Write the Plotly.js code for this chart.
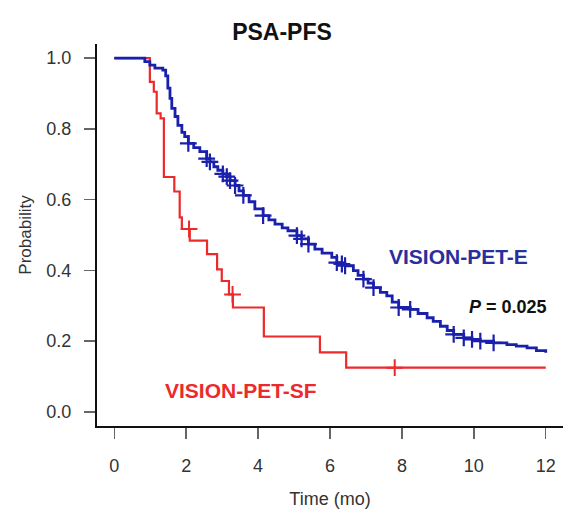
<!DOCTYPE html>
<html>
<head>
<meta charset="utf-8">
<script src="https://cdn.plot.ly/plotly-3.0.1.min.js"></script>
<style>html,body{margin:0;padding:0;background:#fff;}#chart{width:582px;height:520px;}</style>
</head>
<body>
<div id="chart"></div>
<script>
// VISION-PET-E (blue) Kaplan-Meier steps
var eTime = [0, 0.71, 0.85, 0.99, 1.13, 1.35, 1.43, 1.49, 1.55, 1.60, 1.69, 1.77, 1.88, 1.96, 2.06, 2.21, 2.38, 2.57, 2.66, 2.77, 2.88, 3.02, 3.13, 3.22, 3.36, 3.47, 3.59, 3.75, 3.91, 4.14, 4.30, 4.47, 4.67, 4.83, 5.08, 5.21, 5.40, 5.58, 5.78, 6.05, 6.19, 6.33, 6.42, 6.65, 6.78, 6.93, 7.06, 7.21, 7.40, 7.58, 7.73, 7.91, 8.23, 8.45, 8.70, 8.87, 9.07, 9.26, 9.44, 9.72, 9.95, 10.18, 10.55, 10.92, 11.18, 11.48, 11.74, 12.0];
var eSurv = [1.0, 1.0, 0.99, 0.98, 0.972, 0.966, 0.95, 0.915, 0.886, 0.858, 0.835, 0.81, 0.79, 0.778, 0.759, 0.747, 0.736, 0.716, 0.707, 0.693, 0.683, 0.673, 0.665, 0.654, 0.64, 0.625, 0.612, 0.594, 0.574, 0.555, 0.543, 0.531, 0.52, 0.512, 0.498, 0.489, 0.474, 0.46, 0.449, 0.437, 0.422, 0.418, 0.413, 0.399, 0.386, 0.375, 0.364, 0.351, 0.338, 0.328, 0.31, 0.295, 0.29, 0.278, 0.266, 0.256, 0.242, 0.23, 0.219, 0.209, 0.205, 0.20, 0.195, 0.19, 0.186, 0.181, 0.173, 0.167];
var eCensor = [2.06, 2.57, 2.66, 3.02, 3.13, 3.22, 3.36, 3.59, 4.14, 5.08, 5.21, 5.40, 6.19, 6.33, 6.42, 6.93, 7.21, 7.91, 8.23, 9.44, 9.72, 9.95, 10.18, 10.55];

// VISION-PET-SF (red) Kaplan-Meier steps
var sfTime = [0, 0.99, 1.10, 1.18, 1.29, 1.38, 1.67, 1.82, 1.88, 2.10, 2.58, 2.86, 2.99, 3.19, 3.30, 4.16, 5.72, 6.45, 12.0];
var sfSurv = [1.0, 0.933, 0.905, 0.844, 0.83, 0.664, 0.623, 0.55, 0.517, 0.484, 0.446, 0.403, 0.37, 0.332, 0.295, 0.213, 0.168, 0.125, 0.125];
var sfCensor = [2.08, 3.29, 7.80];

var xTicks = [0, 2, 4, 6, 8, 10, 12];
var yTicks = [0, 0.2, 0.4, 0.6, 0.8, 1.0];
var yTickText = ['0.0', '0.2', '0.4', '0.6', '0.8', '1.0'];

function survAt(times, surv, t) {
  var v = surv[0];
  for (var i = 0; i < times.length; i++) { if (times[i] <= t) v = surv[i]; }
  return v;
}

var BLUE = '#1b20ac';
var RED = '#ec2a2c';

var traces = [
  {x: sfTime, y: sfSurv, type: 'scatter', mode: 'lines', line: {shape: 'hv', color: RED, width: 2.2}, hoverinfo: 'skip'},
  {x: eTime, y: eSurv, type: 'scatter', mode: 'lines', line: {shape: 'hv', color: BLUE, width: 2.8}, hoverinfo: 'skip'},
  {x: sfCensor, y: sfCensor.map(function(t){return survAt(sfTime, sfSurv, t);}), type: 'scatter', mode: 'markers',
   marker: {symbol: 'cross-thin', size: 12, color: RED, line: {color: RED, width: 2}}, hoverinfo: 'skip'},
  {x: eCensor, y: eCensor.map(function(t){return survAt(eTime, eSurv, t);}), type: 'scatter', mode: 'markers',
   marker: {symbol: 'cross-thin', size: 12, color: BLUE, line: {color: BLUE, width: 2.2}}, hoverinfo: 'skip'}
];

var layout = {
  width: 582, height: 520,
  margin: {l: 97, r: 19, t: 44, b: 94},
  paper_bgcolor: '#fff', plot_bgcolor: '#fff',
  showlegend: false,
  font: {family: 'Liberation Sans, Arial, sans-serif', color: '#333'},
  title: {text: '<b>PSA-PFS</b>', x: 282/582, xanchor: 'center', y: 1 - 32/520, yanchor: 'middle', font: {size: 23, color: '#111'}},
  xaxis: {
    range: [-0.48, 12.48], tickvals: xTicks, ticktext: xTicks.map(String),
    showgrid: false, zeroline: false, showline: true, linecolor: '#111', linewidth: 2,
    ticks: 'outside', ticklen: 11, tickwidth: 1.5, tickcolor: '#666',
    tickfont: {size: 18, color: '#333'}, ticklabelstandoff: 11,
    title: {text: 'Time (mo)', font: {size: 18, color: '#333'}, standoff: 18}
  },
  yaxis: {
    range: [-0.04, 1.04], tickvals: yTicks, ticktext: yTickText,
    showgrid: false, zeroline: false, showline: true, linecolor: '#111', linewidth: 2,
    ticks: 'outside', ticklen: 11, tickwidth: 1.5, tickcolor: '#666',
    tickfont: {size: 18, color: '#333'}, ticklabelstandoff: 9,
    title: {text: 'Probability', font: {size: 17, color: '#333'}, standoff: 10}
  },
  annotations: [
    {text: '<b>VISION-PET-E</b>', xref: 'paper', yref: 'paper', x: (458 - 97)/466, y: (426 - 256)/382, xanchor: 'center', yanchor: 'middle', showarrow: false, font: {size: 21, color: '#2a2f9c'}},
    {text: '<b><i>P</i> = 0.025</b>', xref: 'paper', yref: 'paper', x: (508 - 97)/466, y: (426 - 307)/382, xanchor: 'center', yanchor: 'middle', showarrow: false, font: {size: 18, color: '#111'}},
    {text: '<b>VISION-PET-SF</b>', xref: 'paper', yref: 'paper', x: (241 - 97)/466, y: (426 - 390)/382, xanchor: 'center', yanchor: 'middle', showarrow: false, font: {size: 21, color: RED}}
  ]
};

Plotly.newPlot('chart', traces, layout, {displayModeBar: false, staticPlot: true});
</script>
</body>
</html>
